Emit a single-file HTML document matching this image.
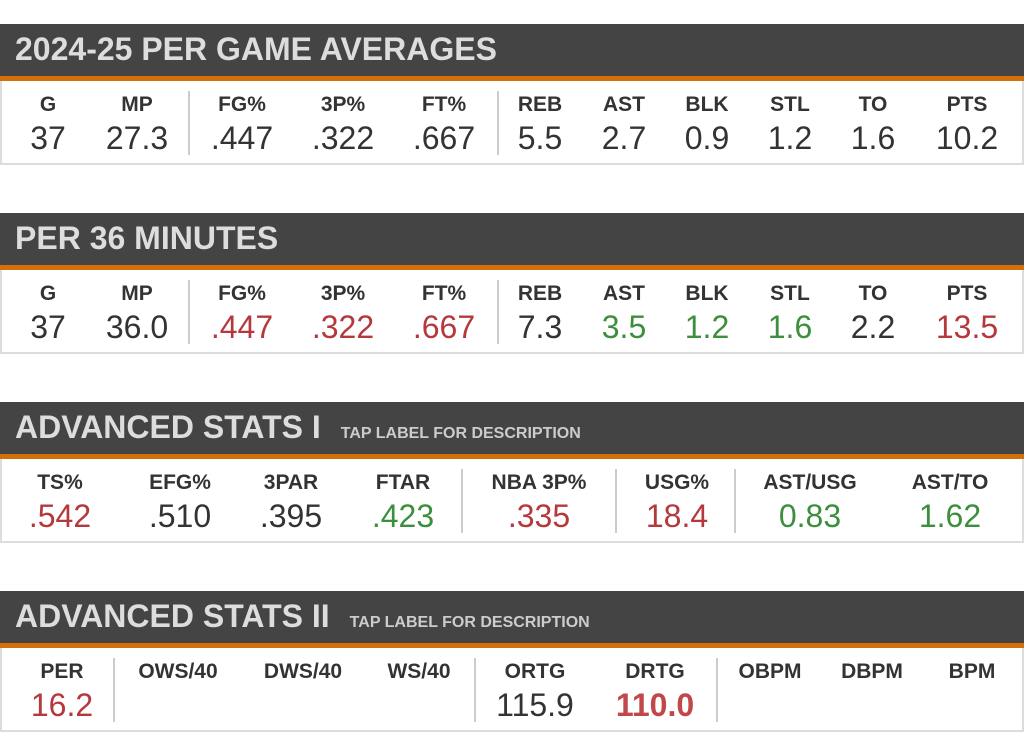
<!DOCTYPE html>
<html><head><meta charset="utf-8"><style>
body{margin:0;width:1024px;height:756px;background:#fff;position:relative;overflow:hidden;font-family:"Liberation Sans",sans-serif}
.h{position:absolute;left:0;width:1024px;height:52px;background:#444}
.h .t{position:absolute;left:15px;top:7px;font-size:32px;font-weight:bold;color:#ddd;white-space:nowrap}
.h .s{font-size:16px;color:#ccc;margin-left:20px;font-weight:bold}
.o{position:absolute;left:0;width:1024px;height:5px;background:#d3700c}
.b{position:absolute;left:0;width:1020px;height:82px;border:2px solid #ddd;border-top:none;background:#fff}
.c{position:absolute;width:150px;margin-left:-75px;text-align:center;white-space:nowrap;top:12px!important}
.l{font-size:21px;font-weight:bold;color:#333}
.v{font-size:32px;color:#333;margin-top:4px;line-height:34px}
.d{position:absolute;width:2px;height:64px;background:#ccc}
.r{color:#b5383c}.g{color:#3c8f3c}.rb{color:#c0474a;font-weight:bold}
</style></head><body>

<div class="h" style="top:24px"><div class="t">2024-25 PER GAME AVERAGES</div></div>
<div class="o" style="top:76px"></div>
<div class="b" style="top:81px">
<div class="c" style="left:46px;top:10px"><div class="l">G</div><div class="v">37</div></div>
<div class="c" style="left:135px;top:10px"><div class="l">MP</div><div class="v">27.3</div></div>
<div class="d" style="left:186px;top:10px"></div>
<div class="c" style="left:240px;top:10px"><div class="l">FG%</div><div class="v">.447</div></div>
<div class="c" style="left:341px;top:10px"><div class="l">3P%</div><div class="v">.322</div></div>
<div class="c" style="left:442px;top:10px"><div class="l">FT%</div><div class="v">.667</div></div>
<div class="d" style="left:495px;top:10px"></div>
<div class="c" style="left:538px;top:10px"><div class="l">REB</div><div class="v">5.5</div></div>
<div class="c" style="left:622px;top:10px"><div class="l">AST</div><div class="v">2.7</div></div>
<div class="c" style="left:705px;top:10px"><div class="l">BLK</div><div class="v">0.9</div></div>
<div class="c" style="left:788px;top:10px"><div class="l">STL</div><div class="v">1.2</div></div>
<div class="c" style="left:871px;top:10px"><div class="l">TO</div><div class="v">1.6</div></div>
<div class="c" style="left:965px;top:10px"><div class="l">PTS</div><div class="v">10.2</div></div>
</div>

<div class="h" style="top:213px"><div class="t">PER 36 MINUTES</div></div>
<div class="o" style="top:265px"></div>
<div class="b" style="top:270px">
<div class="c" style="left:46px;top:10px"><div class="l">G</div><div class="v">37</div></div>
<div class="c" style="left:135px;top:10px"><div class="l">MP</div><div class="v">36.0</div></div>
<div class="d" style="left:186px;top:10px"></div>
<div class="c" style="left:240px;top:10px"><div class="l">FG%</div><div class="v r">.447</div></div>
<div class="c" style="left:341px;top:10px"><div class="l">3P%</div><div class="v r">.322</div></div>
<div class="c" style="left:442px;top:10px"><div class="l">FT%</div><div class="v r">.667</div></div>
<div class="d" style="left:495px;top:10px"></div>
<div class="c" style="left:538px;top:10px"><div class="l">REB</div><div class="v">7.3</div></div>
<div class="c" style="left:622px;top:10px"><div class="l">AST</div><div class="v g">3.5</div></div>
<div class="c" style="left:705px;top:10px"><div class="l">BLK</div><div class="v g">1.2</div></div>
<div class="c" style="left:788px;top:10px"><div class="l">STL</div><div class="v g">1.6</div></div>
<div class="c" style="left:871px;top:10px"><div class="l">TO</div><div class="v">2.2</div></div>
<div class="c" style="left:965px;top:10px"><div class="l">PTS</div><div class="v r">13.5</div></div>
</div>

<div class="h" style="top:402px"><div class="t">ADVANCED STATS I<span class="s">TAP LABEL FOR DESCRIPTION</span></div></div>
<div class="o" style="top:454px"></div>
<div class="b" style="top:459px">
<div class="c" style="left:58px;top:10px"><div class="l">TS%</div><div class="v r">.542</div></div>
<div class="c" style="left:178px;top:10px"><div class="l">EFG%</div><div class="v">.510</div></div>
<div class="c" style="left:289px;top:10px"><div class="l">3PAR</div><div class="v">.395</div></div>
<div class="c" style="left:401px;top:10px"><div class="l">FTAR</div><div class="v g">.423</div></div>
<div class="d" style="left:459px;top:10px"></div>
<div class="c" style="left:537px;top:10px"><div class="l">NBA 3P%</div><div class="v r">.335</div></div>
<div class="d" style="left:613px;top:10px"></div>
<div class="c" style="left:675px;top:10px"><div class="l">USG%</div><div class="v r">18.4</div></div>
<div class="d" style="left:732px;top:10px"></div>
<div class="c" style="left:808px;top:10px"><div class="l">AST/USG</div><div class="v g">0.83</div></div>
<div class="c" style="left:948px;top:10px"><div class="l">AST/TO</div><div class="v g">1.62</div></div>
</div>

<div class="h" style="top:591px"><div class="t">ADVANCED STATS II<span class="s">TAP LABEL FOR DESCRIPTION</span></div></div>
<div class="o" style="top:643px"></div>
<div class="b" style="top:648px">
<div class="c" style="left:60px;top:10px"><div class="l">PER</div><div class="v r">16.2</div></div>
<div class="d" style="left:111px;top:10px"></div>
<div class="c" style="left:176px;top:10px"><div class="l">OWS/40</div></div>
<div class="c" style="left:301px;top:10px"><div class="l">DWS/40</div></div>
<div class="c" style="left:417px;top:10px"><div class="l">WS/40</div></div>
<div class="d" style="left:472px;top:10px"></div>
<div class="c" style="left:533px;top:10px"><div class="l">ORTG</div><div class="v">115.9</div></div>
<div class="c" style="left:653px;top:10px"><div class="l">DRTG</div><div class="v rb">110.0</div></div>
<div class="d" style="left:714px;top:10px"></div>
<div class="c" style="left:768px;top:10px"><div class="l">OBPM</div></div>
<div class="c" style="left:870px;top:10px"><div class="l">DBPM</div></div>
<div class="c" style="left:970px;top:10px"><div class="l">BPM</div></div>
</div>

</body></html>
